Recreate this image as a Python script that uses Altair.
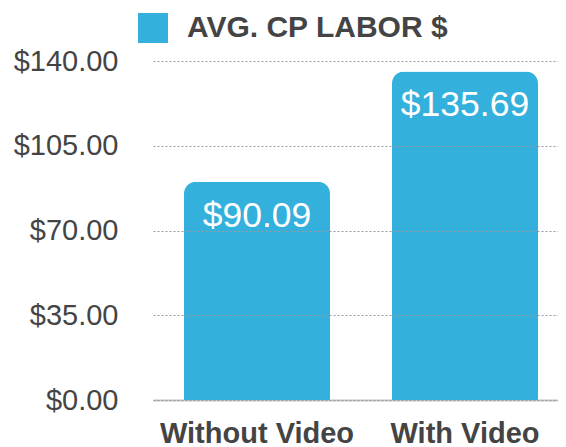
import altair as alt
import pandas as pd

categories = ["Without Video", "With Video"]
values = [90.09, 135.69]
series_name = ["AVG. CP LABOR $", "AVG. CP LABOR $"]
y_ticks = [0, 35, 70, 105, 140]

df = pd.DataFrame({"category": categories, "value": values, "series": series_name})

BAR = "#34B0DD"
TXT = "#444444"
FONT = "Liberation Sans"

x = alt.X("category:N", sort=categories, title=None,
          scale=alt.Scale(paddingInner=0.298, paddingOuter=0.1226, align=0.608),
          axis=alt.Axis(labelAngle=0, labelFont=FONT, labelFontSize=29, labelFontWeight="bold",
                        labelColor=TXT, labelPadding=19, labelLimit=500, ticks=False, domain=True,
                        domainColor="#c4c4c4", domainWidth=2, grid=False))
y = alt.Y("value:Q", title=None,
          scale=alt.Scale(domain=[0, 140], nice=False),
          axis=alt.Axis(values=y_ticks, format="$.2f", labelFont=FONT, labelFontSize=29,
                        labelColor=TXT, labelPadding=35, labelLimit=500, ticks=False, domain=False,
                        grid=True, gridColor="#9a9a9a", gridDash=[2, 2], gridWidth=1, zindex=1))

bars = alt.Chart(df).mark_bar(cornerRadiusTopLeft=12, cornerRadiusTopRight=12).encode(
    x=x, y=y,
    color=alt.Color("series:N", scale=alt.Scale(range=[BAR]),
                    legend=alt.Legend(title=None, orient="none", legendX=-15, legendY=-48,
                                      symbolType="square", symbolSize=900, symbolStrokeWidth=0,
                                      symbolOpacity=1, labelFont=FONT, labelFontSize=30,
                                      labelFontWeight="bold", labelColor=TXT, labelOffset=19,
                                      labelLimit=500, padding=0)),
)

labels = alt.Chart(df).mark_text(font=FONT, fontSize=35.5, color="white", baseline="alphabetic",
                                 dy=45).encode(
    x=alt.X("category:N", sort=categories),
    y=alt.Y("value:Q"),
    text=alt.Text("value:Q", format="$.2f"),
)

chart = alt.layer(bars, labels).properties(
    width=405, height=339,
    autosize=alt.AutoSizeParams(type="none"),
    padding={"left": 145, "top": 53, "right": 0, "bottom": 47},
).configure_view(stroke=None)

chart.save("out.html", embed_options={"renderer": "svg", "actions": False})
